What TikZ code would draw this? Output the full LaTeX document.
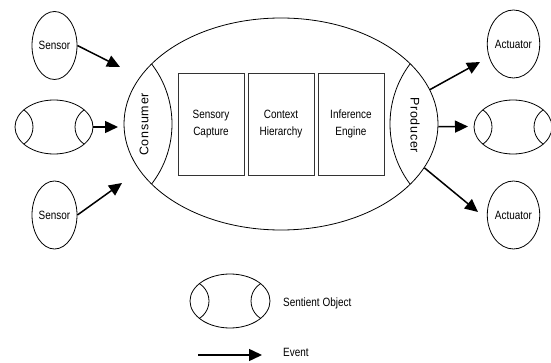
\documentclass[tikz,border=0pt]{standalone}
\usepackage{fontspec}
\setmainfont{Liberation Sans}[FakeStretch=0.83]
\newfontfamily\lensfont{Liberation Sans}[LetterSpace=6]
\usetikzlibrary{shapes.geometric,arrows.meta}

\tikzset{
  outline/.style={line width=0.8pt},
  obj/.style={ellipse, draw, outline, inner sep=0pt,
    font=\fontsize{12}{14}\selectfont},
  sentient/.style={obj, minimum width=78pt, minimum height=54pt,
    path picture={
      \draw[outline] ([xshift=-41.6pt]path picture bounding box.center) circle[radius=20.6pt];
      \draw[outline] ([xshift=41.6pt]path picture bounding box.center) circle[radius=20.6pt];
    }},
  device/.style={obj, minimum width=45pt, minimum height=68pt},
  stage/.style={rectangle, draw=black!80, line width=0.9pt,
    minimum width=66pt, minimum height=102pt, inner sep=0pt,
    align=center, font=\fontsize{12}{17}\selectfont},
  lens/.style={inner sep=0pt, font=\lensfont\fontsize{12.5}{14}\selectfont},
  evt/.style={line width=1.5pt, -{Triangle[length=13pt,width=12pt]}},
  legendtext/.style={anchor=base west, inner sep=0pt,
    font=\fontsize{12}{14}\selectfont}
}

\begin{document}
\begin{tikzpicture}[x=1pt,y=-1pt]
\useasboundingbox[fill=white] (0,0) rectangle (551,363);

% central sentient object with consumer and producer lenses
\node[obj, minimum width=314pt, minimum height=212pt,
  path picture={
    \draw[outline] ([xshift=-207.5pt]path picture bounding box.center) circle[radius=98.5pt];
    \draw[outline] ([xshift=209pt]path picture bounding box.center) circle[radius=100pt];
  }] (main) at (281,124) {};
\node[lens, rotate=90] (consumer) at (144,124.5) {Consumer};
\node[lens, rotate=-90] (producer) at (415,125) {Producer};

% processing stages
\node[stage] (capture) at (211,124) {Sensory\\Capture};
\node[stage] (context) at (281,124) {Context\\Hierarchy};
\node[stage] (engine) at (351,124) {Inference\\Engine};

% inputs
\node[device] (sensA) at (54.5,45.5) {Sensor};
\node[sentient] (srcobj) at (54,127) {};
\node[device] (sensB) at (54.5,215) {Sensor};

% outputs
\node[device] (actA) at (513.5,44) {Actuator};
\node[sentient] (dstobj) at (513,127) {};
\node[device] (actB) at (513.5,215) {Actuator};

% event arrow tips
\coordinate (inA) at (120,67);
\coordinate (inM) at (118,127);
\coordinate (inB) at (122,183);
\coordinate (outA) at (480,62);
\coordinate (outM) at (468,126.5);
\coordinate (outB) at (478,212);

\draw[evt] (sensA.east) -- (inA);
\draw[evt] (srcobj.east) -- (inM);
\draw[evt] (sensB.east) -- (inB);
\draw[evt] (main.13) -- (outA);
\draw[evt] (main.-1) -- (outM);
\draw[evt] (main.-17) -- (outB);

% legend
\node[sentient, minimum width=80pt] (keyobj) at (230,301) {};
\node[legendtext] (keyobjtext) at (283,306) {Sentient Object};
\coordinate (keyfrom) at (198,355);
\coordinate (keyto) at (262,355);
\draw[evt] (keyfrom) -- (keyto);
\node[legendtext] (keyevttext) at (283,356) {Event};
\end{tikzpicture}
\end{document}
